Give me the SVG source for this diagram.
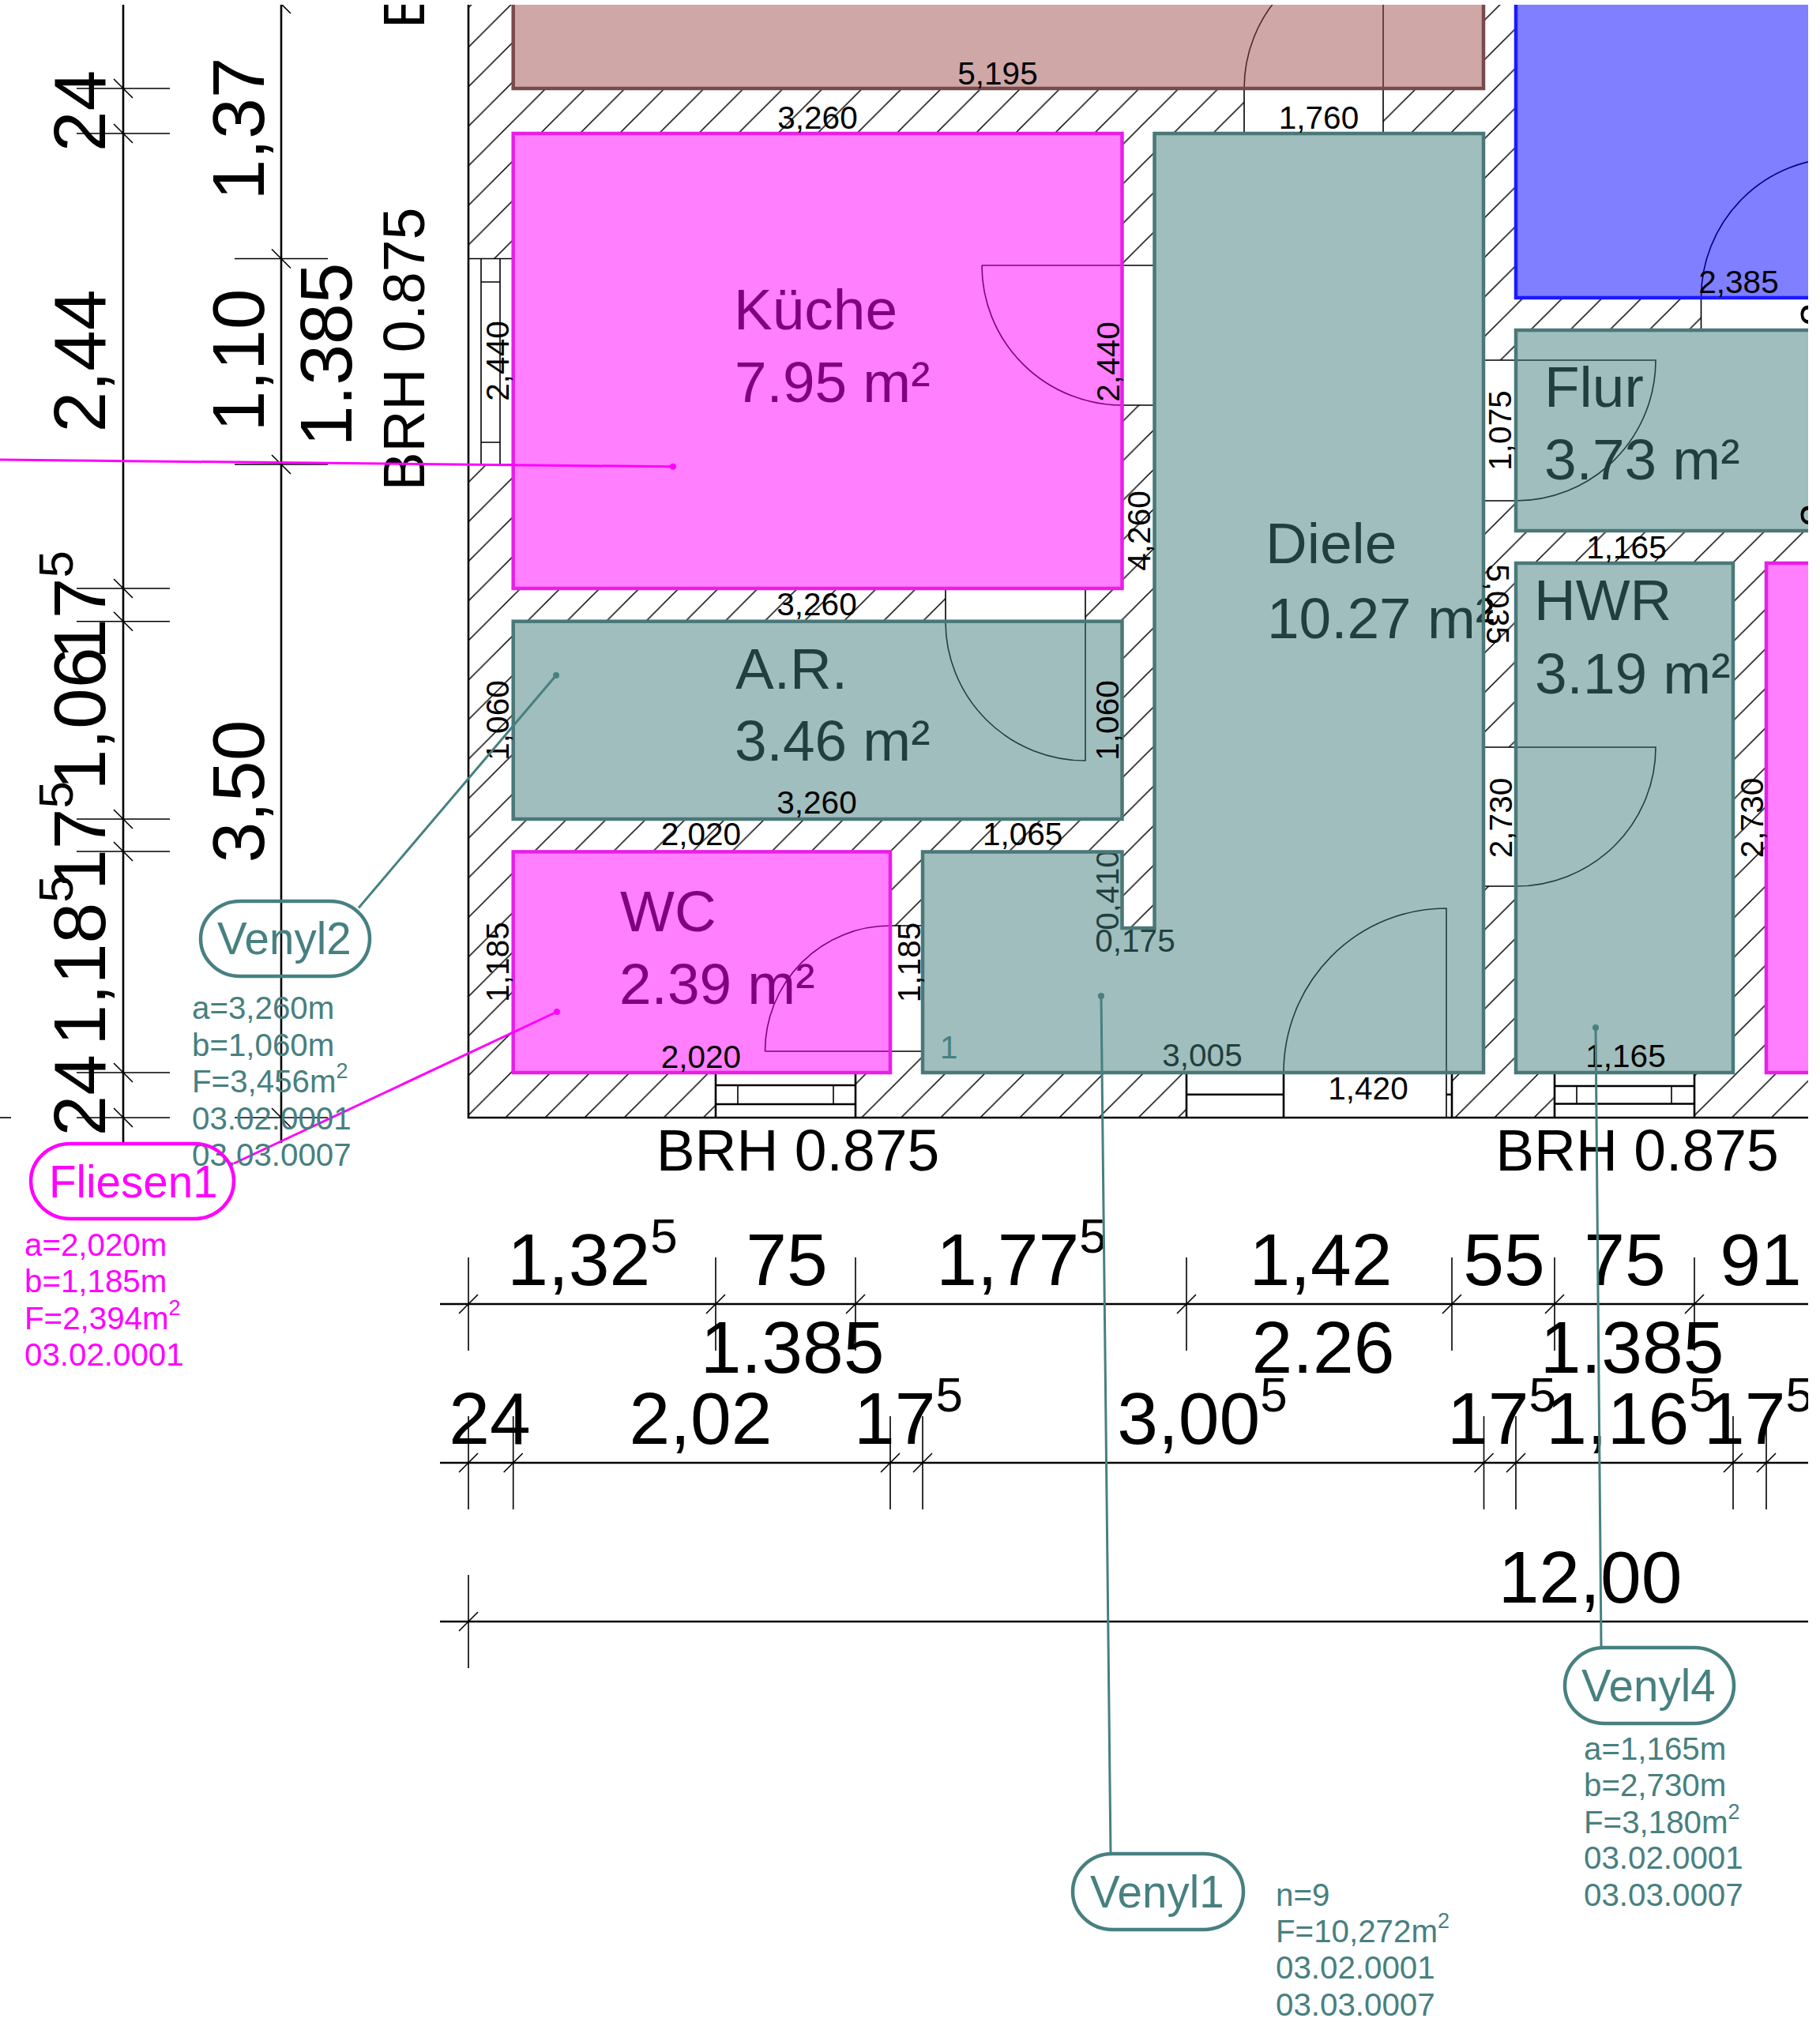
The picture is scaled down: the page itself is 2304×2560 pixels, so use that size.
<svg xmlns="http://www.w3.org/2000/svg" xmlns:xlink="http://www.w3.org/1999/xlink" width="2304" height="2560" viewBox="0 0 2304 2560">
<style>
text{font-family:"Liberation Sans",Arial,sans-serif;fill:#000}
.d{font-size:93px;text-anchor:middle}
.u{font-size:62px}
.b{font-size:73.300px}
.m{text-anchor:middle}
.s{font-size:40.500px;text-anchor:middle}
.l{font-size:73px}
.a{font-size:40.300px}
.sup{font-size:27px}
.p{font-size:56.500px}
.teal{fill:#478080}
.pink{fill:#ff00ff}
.ln{fill:none;stroke:#000;stroke-width:1.6}
.ln2{fill:none;stroke:#000;stroke-width:2.6}
.door{fill:none;stroke:#000;stroke-width:1.6}
.rt{fill:#417d7b;fill-opacity:.5;stroke:#4a7878;stroke-width:4.5}
.rp{fill:#ff00ff;fill-opacity:.5;stroke:#e81ee8;stroke-width:4.5}
.rb{fill:#0000ff;fill-opacity:.5;stroke:#1a1aff;stroke-width:4.5}
.rr{fill:#a05050;fill-opacity:.5;stroke:#7a4a4a;stroke-width:4.5}
.pl{fill:none;stroke-width:4.500}
.lead{fill:none;stroke-width:3}
</style>
<defs>
<pattern id="hatch" patternUnits="userSpaceOnUse" width="50.08" height="50.08" patternTransform="translate(1.7 0)">
<path d="M51.08-1L-1 51.08M1-1L-1 1M51.08 49.08L49.08 51.08" fill="none" stroke="#000" stroke-width="1.5"/>
</pattern>
<g id="tv"><path class="ln" d="M-59 0H59M-12-12L12 12"/></g>
<g id="th"><path class="ln" d="M0-59V59M-12 12L12-12"/></g>
</defs>
<rect width="2304" height="2560" fill="#fff"/>

<g id="walls">
<rect x="593" y="0" width="1711" height="1415" fill="url(#hatch)"/>
<path fill="#fff" d="M649.7 0H1878V112H649.7ZM649.7 169H1420.5V745H649.7ZM649.7 786.7H1420.5V1037H649.7ZM649.7 1078.4H1127V1358H649.7ZM1463 169H1878V1358H1168V1078.4H1420.5V1175H1463ZM1919 0H2304V377H1919ZM1919 418H2304V672H1919ZM1919 713H2194V1358H1919ZM2236 713H2304V1358H2236Z"/>
<path fill="#fff" d="M593 327.5H649.7V588H593ZM1575 112H1751V169H1575ZM1420.5 336H1463V513H1420.5ZM1197 745H1374V787H1197ZM1127 1172H1168V1331H1127ZM1878 456H1919V634H1878ZM1878 946H1919V1122H1878ZM2153.5 377H2304V418H2153.5ZM906 1358H1083V1415H906ZM1502 1358H1838V1415H1502ZM1968 1358H2145V1415H1968Z"/>
<path class="ln2" d="M593 6V1415H2289"/>
</g>

<g id="openings">
<path class="ln" d="M593 327.5H649.7M593 588H649.7M609 327.5V588M633 327.5V588M609 357H633M609 560H633"/>
<path class="ln2" d="M906 1358V1415M1083 1358V1415M906 1374H1083M906 1398H1083M1968 1358V1415M2145 1358V1415M1968 1375H2145M1968 1397.5H2145M1502 1358V1415M1625 1358V1415M1502 1385.7H1625M1831 1385.7H1838M1838 1358V1415"/>
<path class="ln" d="M934 1374V1398M1055 1374V1398M1996 1375V1397.5M2116 1375V1397.5"/>
<path class="door" d="M1575 112V169M1751 0V169M1575 112A176 176 0 0 1 1751-64"/>
<path class="door" d="M1243 336H1463M1243 336A178 177 0 0 0 1421 513H1463"/>
<path class="door" d="M1197 745V787A177 176 0 0 0 1374 963V745"/>
<path class="door" d="M968.5 1331A158.500 159 0 0 1 1127 1172H1168M968.5 1331H1168"/>
<path class="door" d="M1878 456H2096A177 178 0 0 1 1919 634H1878"/>
<path class="door" d="M1878 946H2096A177 176 0 0 1 1919 1122H1878"/>
<path class="door" d="M1831 1415V1150A206 208 0 0 0 1625 1358"/>
<path class="door" d="M2153.500 418V377A177 177 0 0 1 2330 200"/>
</g>

<g id="labels-under">
<text class="l" x="929" y="417">Küche</text>
<text class="l" x="930" y="509">7.95 m²</text>
<text class="l" x="931" y="872">A.R.</text>
<text class="l" x="930" y="963">3.46 m²</text>
<text class="l" x="785" y="1179">WC</text>
<text class="l" x="784" y="1271">2.39 m²</text>
<text class="l" x="1602" y="713">Diele</text>
<text class="l" x="1604" y="808">10.27 m²</text>
<text class="l" x="1955" y="515">Flur</text>
<text class="l" x="1955" y="607">3.73 m²</text>
<text class="l" x="1942" y="785">HWR</text>
<text class="l" x="1943" y="878">3.19 m²</text>
<text class="s" x="1522" y="1350">3,005</text>
<text class="s" x="1437" y="1205">0,175</text>
<text class="s" transform="translate(1416 1127) rotate(-90)">0,410</text>
</g>

<g id="rooms">
<rect id="room-brown" class="rr" x="649.700" y="-10" width="1228.300" height="122"/>
<rect id="room-blue" class="rb" x="1919" y="-10" width="400" height="387"/>
<rect id="room-kueche" class="rp" x="649.700" y="169" width="770.800" height="576"/>
<rect id="room-ar" class="rt" x="649.700" y="786.700" width="770.800" height="250.300"/>
<rect id="room-wc" class="rp" x="649.700" y="1078.400" width="477.300" height="279.600"/>
<path id="room-diele" class="rt" d="M1461.500 169H1878V1358H1168V1078.400H1420.500V1175H1461.500Z"/>
<rect id="room-flur" class="rt" x="1919" y="418" width="400" height="254"/>
<rect id="room-hwr" class="rt" x="1919" y="713" width="275" height="645"/>
<rect id="room-pink" class="rp" x="2236" y="713" width="80" height="645"/>
</g>

<g id="room-dimensions">
<text class="s" x="1263" y="106.500">5,195</text>
<text class="s" x="1035" y="163">3,260</text>
<text class="s" x="1669.500" y="163">1,760</text>
<text class="s" x="2201" y="370.500">2,385</text>
<text class="s" x="2059" y="706.600">1,165</text>
<text class="s" x="1034" y="778.600">3,260</text>
<text class="s" x="1034" y="1029.600">3,260</text>
<text class="s" x="887.400" y="1070">2,020</text>
<text class="s" x="1294.600" y="1070">1,065</text>
<text class="s" x="887.400" y="1351.500">2,020</text>
<text class="s" x="1732" y="1391.500">1,420</text>
<text class="s" x="2058" y="1351">1,165</text>
<text class="s" transform="translate(644 457) rotate(-90)">2,440</text>
<text class="s" transform="translate(1417 458) rotate(-90)">2,440</text>
<text class="s" transform="translate(1455.600 672) rotate(-90)">4,260</text>
<text class="s" transform="translate(1913 545) rotate(-90)">1,075</text>
<text class="s" transform="translate(1882 765) rotate(90)">5,035</text>
<text class="s" transform="translate(1914 1035.500) rotate(-90)">2,730</text>
<text class="s" transform="translate(2232 1035.500) rotate(-90)">2,730</text>
<text class="s" transform="translate(644 912) rotate(-90)">1,060</text>
<text class="s" transform="translate(1416 912) rotate(-90)">1,060</text>
<text class="s" transform="translate(644 1218) rotate(-90)">1,185</text>
<text class="s" transform="translate(1165 1218.500) rotate(-90)">1,185</text>
<text class="m" font-size="52" transform="translate(2316 398) rotate(-90)">3</text>
<text class="m" font-size="52" transform="translate(2316 652) rotate(-90)">3</text>
<text class="teal a" x="1190" y="1340">1</text>
</g>

<g id="dimensions-vertical">
<path class="ln2" d="M156 6V1447M356 6V1447"/>
<path class="ln" d="M0 1415H14"/>
<use xlink:href="#tv" href="#tv" x="156" y="112"/><use xlink:href="#tv" href="#tv" x="156" y="169"/><use xlink:href="#tv" href="#tv" x="156" y="745"/><use xlink:href="#tv" href="#tv" x="156" y="786.700"/><use xlink:href="#tv" href="#tv" x="156" y="1037"/><use xlink:href="#tv" href="#tv" x="156" y="1078"/><use xlink:href="#tv" href="#tv" x="156" y="1358"/><use xlink:href="#tv" href="#tv" x="156" y="1415"/>
<use xlink:href="#tv" href="#tv" x="356" y="5"/><use xlink:href="#tv" href="#tv" x="356" y="327.500"/><use xlink:href="#tv" href="#tv" x="356" y="588"/><use xlink:href="#tv" href="#tv" x="356" y="1415"/>
<text class="d" transform="translate(133 140.500) rotate(-90)">24</text>
<text class="d" transform="translate(133 457) rotate(-90)">2,44</text>
<text class="d" transform="translate(133 766) rotate(-90)">17<tspan class="u" dy="-41">5</tspan></text>
<text class="d" transform="translate(133 910) rotate(-90)">1,06</text>
<text class="d" transform="translate(133 1058) rotate(-90)">17<tspan class="u" dy="-41">5</tspan></text>
<text class="d" transform="translate(133 1216) rotate(-90)">1,18<tspan class="u" dy="-41">5</tspan></text>
<text class="d" transform="translate(133 1386.700) rotate(-90)">24</text>
<text class="d" transform="translate(334 163) rotate(-90)">1,37</text>
<text class="d" transform="translate(334 456) rotate(-90)">1,10</text>
<text class="d" transform="translate(334 1002) rotate(-90)">3,50</text>
<text class="d" transform="translate(445 449) rotate(-90)">1.385</text>
<text class="b m" transform="translate(537 442) rotate(-90)">BRH 0.875</text>
<text class="b" transform="translate(537 36) rotate(-90)">E</text>
</g>

<g id="dimensions-horizontal">
<text class="b m" x="1010" y="1481.600">BRH 0.875</text>
<text class="b m" x="2072.500" y="1481.600">BRH 0.875</text>
<path class="ln2" d="M557 1651H2289M557 1852H2289M557 2053H2289"/>
<use xlink:href="#th" href="#th" x="593" y="1651"/><use xlink:href="#th" href="#th" x="906" y="1651"/><use xlink:href="#th" href="#th" x="1083" y="1651"/><use xlink:href="#th" href="#th" x="1502" y="1651"/><use xlink:href="#th" href="#th" x="1838" y="1651"/><use xlink:href="#th" href="#th" x="1968" y="1651"/><use xlink:href="#th" href="#th" x="2145" y="1651"/>
<use xlink:href="#th" href="#th" x="593" y="1852"/><use xlink:href="#th" href="#th" x="649.700" y="1852"/><use xlink:href="#th" href="#th" x="1127" y="1852"/><use xlink:href="#th" href="#th" x="1168" y="1852"/><use xlink:href="#th" href="#th" x="1878.500" y="1852"/><use xlink:href="#th" href="#th" x="1919" y="1852"/><use xlink:href="#th" href="#th" x="2194" y="1852"/><use xlink:href="#th" href="#th" x="2236" y="1852"/>
<use xlink:href="#th" href="#th" x="593" y="2053"/>
<text class="d" x="750" y="1627">1,32<tspan class="u" dy="-41">5</tspan></text>
<text class="d" x="996" y="1627">75</text>
<text class="d" x="1293" y="1627">1,77<tspan class="u" dy="-41">5</tspan></text>
<text class="d" x="1672" y="1627">1,42</text>
<text class="d" x="1904" y="1627">55</text>
<text class="d" x="2057" y="1627">75</text>
<text class="d" x="2229" y="1627">91</text>
<text class="d" x="1003" y="1738">1.385</text>
<text class="d" x="1675" y="1738">2.26</text>
<text class="d" x="2066" y="1738">1.385</text>
<text class="d" x="620" y="1827.600">24</text>
<text class="d" x="887" y="1827.600">2,02</text>
<text class="d" x="1150" y="1827.600">17<tspan class="u" dy="-41">5</tspan></text>
<text class="d" x="1522" y="1827.600">3,00<tspan class="u" dy="-41">5</tspan></text>
<text class="d" x="1901" y="1827.600">17<tspan class="u" dy="-41">5</tspan></text>
<text class="d" x="2065" y="1827.600">1,16<tspan class="u" dy="-41">5</tspan></text>
<text class="d" x="2226" y="1827.600">17<tspan class="u" dy="-41">5</tspan></text>
<text class="d" x="2013" y="2029">12,00</text>
</g>

<g id="connectors">
<path class="lead" stroke="#ff00ff" d="M0 582L852 590.800"/>
<path class="lead" stroke="#ff00ff" d="M705 1281L296 1473"/>
<path class="lead" stroke="#478080" d="M704 855L454 1149.500"/>
<path class="lead" stroke="#478080" d="M1394 1261L1406 2346"/>
<path class="lead" stroke="#478080" d="M2020 1301L2027 2085"/>
<circle cx="852" cy="590.800" r="4" fill="#ff00ff"/>
<circle cx="705" cy="1281" r="4" fill="#ff00ff"/>
<circle cx="704" cy="855" r="4" fill="#478080"/>
<circle cx="1394" cy="1261" r="4" fill="#478080"/>
<circle cx="2020" cy="1301" r="4" fill="#478080"/>
</g>

<g id="tag-venyl2">
<rect class="pl" stroke="#478080" x="254" y="1141" width="214" height="95" rx="50" ry="47.500"/>
<text class="p teal" x="275" y="1208">Venyl2</text>
<text class="a teal" x="243" y="1290">a=3,260m</text>
<text class="a teal" x="243" y="1336.500">b=1,060m</text>
<text class="a teal" x="243" y="1383">F=3,456m<tspan class="sup teal" dy="-18">2</tspan></text>
<text class="a teal" x="243" y="1429.500">03.02.0001</text>
<text class="a teal" x="243" y="1476">03.03.0007</text>
</g>
<g id="tag-fliesen1">
<rect class="pl" stroke="#ff00ff" x="39" y="1448" width="257" height="95" rx="50" ry="47.500"/>
<text class="p pink" x="62" y="1515.600">Fliesen1</text>
<text class="a pink" x="31" y="1589.500">a=2,020m</text>
<text class="a pink" x="31" y="1636">b=1,185m</text>
<text class="a pink" x="31" y="1682.600">F=2,394m<tspan class="sup pink" dy="-18">2</tspan></text>
<text class="a pink" x="31" y="1729">03.02.0001</text>
</g>
<g id="tag-venyl1">
<rect class="pl" stroke="#478080" x="1358" y="2347" width="216" height="96" rx="50" ry="48"/>
<text class="p teal" x="1380" y="2415">Venyl1</text>
<text class="a teal" x="1615" y="2412.700">n=9</text>
<text class="a teal" x="1615" y="2459">F=10,272m<tspan class="sup teal" dy="-18">2</tspan></text>
<text class="a teal" x="1615" y="2505">03.02.0001</text>
<text class="a teal" x="1615" y="2551.700">03.03.0007</text>
</g>
<g id="tag-venyl4">
<rect class="pl" stroke="#478080" x="1981" y="2086" width="214" height="96" rx="50" ry="48"/>
<text class="p teal" x="2002" y="2154">Venyl4</text>
<text class="a teal" x="2005" y="2228">a=1,165m</text>
<text class="a teal" x="2005" y="2274">b=2,730m</text>
<text class="a teal" x="2005" y="2320.500">F=3,180m<tspan class="sup teal" dy="-18">2</tspan></text>
<text class="a teal" x="2005" y="2366">03.02.0001</text>
<text class="a teal" x="2005" y="2412.500">03.03.0007</text>
</g>

<g id="page-margin">
<rect x="0" y="0" width="2304" height="6" fill="#fff"/>
<rect x="2289" y="0" width="15" height="2560" fill="#fff"/>
</g>
</svg>
